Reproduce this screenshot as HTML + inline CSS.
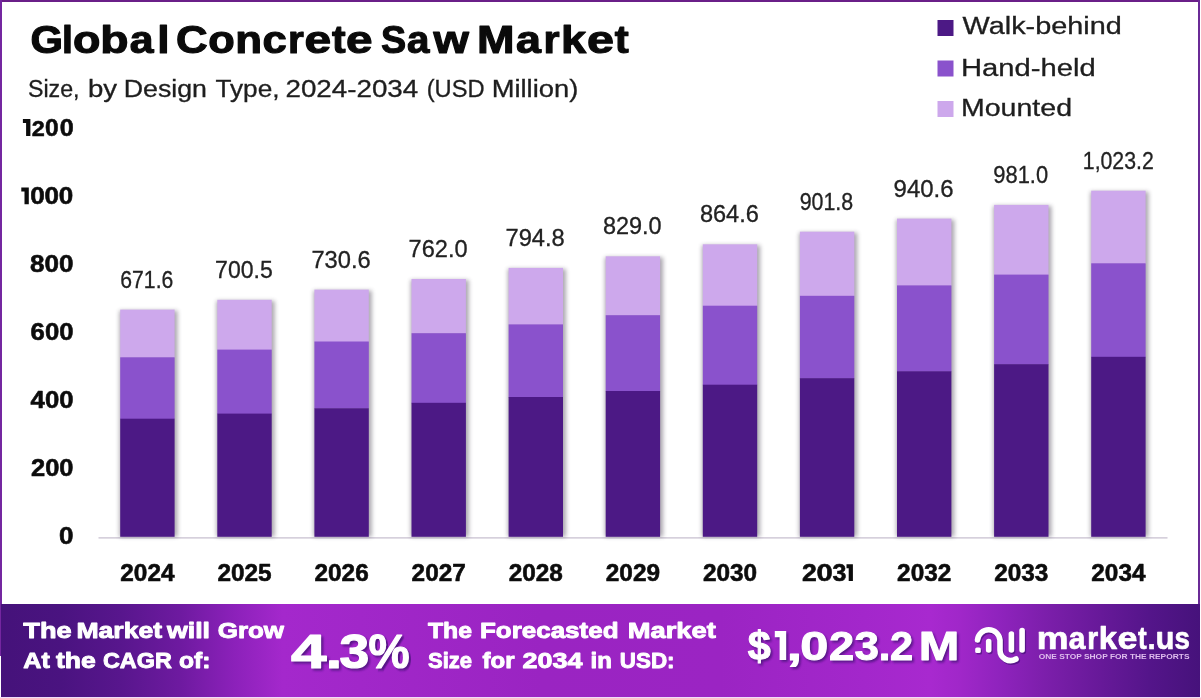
<!DOCTYPE html>
<html lang="en"><head><meta charset="utf-8"><title>Global Concrete Saw Market</title>
<style>html,body{margin:0;padding:0;background:#fff;overflow:hidden}svg{display:block;opacity:0.999}text{font-family:"Liberation Sans",sans-serif}</style></head>
<body>
<svg width="1201" height="698" viewBox="0 0 1201 698" font-family='"Liberation Sans", sans-serif'>
<defs>
<linearGradient id="bg" x1="0" y1="0" x2="1" y2="0">
<stop offset="0" stop-color="#45127a"/>
<stop offset="0.05" stop-color="#4a1380"/>
<stop offset="0.10" stop-color="#58168d"/>
<stop offset="0.15" stop-color="#6e1aa0"/>
<stop offset="0.195" stop-color="#8c21ba"/>
<stop offset="0.235" stop-color="#a428cc"/>
<stop offset="0.30" stop-color="#a127c9"/>
<stop offset="0.45" stop-color="#9a24c2"/>
<stop offset="0.60" stop-color="#9b24c3"/>
<stop offset="0.72" stop-color="#a327cb"/>
<stop offset="0.775" stop-color="#a829cf"/>
<stop offset="0.80" stop-color="#a027c9"/>
<stop offset="0.833" stop-color="#8f23bd"/>
<stop offset="0.875" stop-color="#7a1ea9"/>
<stop offset="0.917" stop-color="#671999"/>
<stop offset="0.958" stop-color="#54158a"/>
<stop offset="1" stop-color="#46127b"/>
</linearGradient>
<filter id="bs" x="-20%" y="-5%" width="140%" height="110%"><feGaussianBlur stdDeviation="2.2"/></filter>
<filter id="ts" x="-10%" y="-10%" width="120%" height="130%"><feGaussianBlur stdDeviation="0.8"/></filter>
</defs>
<rect x="0" y="0" width="1201" height="698" fill="#ffffff"/>
<rect x="0" y="0" width="1200" height="2" fill="#6a1f88"/>
<rect x="0" y="0" width="2" height="656" fill="#7426a0"/>
<rect x="1198" y="0" width="2" height="606" fill="#6a2a96"/>
<text transform="translate(30.38,52.6) scale(1.0851,1)" font-size="38.5" font-weight="700" fill="#0a0a0a" stroke="#0a0a0a" stroke-width="1.1" stroke-linejoin="round">G</text>
<text transform="translate(62.10,52.6) scale(1.0201,1)" font-size="38.5" font-weight="700" fill="#0a0a0a" stroke="#0a0a0a" stroke-width="1.1" stroke-linejoin="round">l</text>
<text transform="translate(73.05,52.6) scale(1.1658,1)" font-size="38.5" font-weight="700" fill="#0a0a0a" stroke="#0a0a0a" stroke-width="1.1" stroke-linejoin="round">o</text>
<text transform="translate(100.34,52.6) scale(1.2035,1)" font-size="38.5" font-weight="700" fill="#0a0a0a" stroke="#0a0a0a" stroke-width="1.1" stroke-linejoin="round">b</text>
<text transform="translate(129.67,52.6) scale(1.1121,1)" font-size="38.5" font-weight="700" fill="#0a0a0a" stroke="#0a0a0a" stroke-width="1.1" stroke-linejoin="round">a</text>
<text transform="translate(157.24,52.6) scale(1.1523,1)" font-size="38.5" font-weight="700" fill="#0a0a0a" stroke="#0a0a0a" stroke-width="1.1" stroke-linejoin="round">l</text>
<text transform="translate(175.90,52.6) scale(1.1381,1)" font-size="38.5" font-weight="700" fill="#0a0a0a" stroke="#0a0a0a" stroke-width="1.1" stroke-linejoin="round">C</text>
<text transform="translate(208.31,52.6) scale(1.1268,1)" font-size="38.5" font-weight="700" fill="#0a0a0a" stroke="#0a0a0a" stroke-width="1.1" stroke-linejoin="round">o</text>
<text transform="translate(235.30,52.6) scale(1.1407,1)" font-size="38.5" font-weight="700" fill="#0a0a0a" stroke="#0a0a0a" stroke-width="1.1" stroke-linejoin="round">n</text>
<text transform="translate(262.60,52.6) scale(1.1349,1)" font-size="38.5" font-weight="700" fill="#0a0a0a" stroke="#0a0a0a" stroke-width="1.1" stroke-linejoin="round">c</text>
<text transform="translate(287.91,52.6) scale(1.0557,1)" font-size="38.5" font-weight="700" fill="#0a0a0a" stroke="#0a0a0a" stroke-width="1.1" stroke-linejoin="round">r</text>
<text transform="translate(304.43,52.6) scale(1.2435,1)" font-size="38.5" font-weight="700" fill="#0a0a0a" stroke="#0a0a0a" stroke-width="1.1" stroke-linejoin="round">e</text>
<text transform="translate(332.04,52.6) scale(1.0643,1)" font-size="38.5" font-weight="700" fill="#0a0a0a" stroke="#0a0a0a" stroke-width="1.1" stroke-linejoin="round">t</text>
<text transform="translate(346.04,52.6) scale(1.2381,1)" font-size="38.5" font-weight="700" fill="#0a0a0a" stroke="#0a0a0a" stroke-width="1.1" stroke-linejoin="round">e</text>
<text transform="translate(380.92,52.6) scale(0.9781,1)" font-size="38.5" font-weight="700" fill="#0a0a0a" stroke="#0a0a0a" stroke-width="1.1" stroke-linejoin="round">S</text>
<text transform="translate(407.04,52.6) scale(1.0487,1)" font-size="38.5" font-weight="700" fill="#0a0a0a" stroke="#0a0a0a" stroke-width="1.1" stroke-linejoin="round">a</text>
<text transform="translate(433.56,52.6) scale(1.1817,1)" font-size="38.5" font-weight="700" fill="#0a0a0a" stroke="#0a0a0a" stroke-width="1.1" stroke-linejoin="round">w</text>
<text transform="translate(477.11,52.6) scale(1.1693,1)" font-size="38.5" font-weight="700" fill="#0a0a0a" stroke="#0a0a0a" stroke-width="1.1" stroke-linejoin="round">M</text>
<text transform="translate(516.00,52.6) scale(1.1658,1)" font-size="38.5" font-weight="700" fill="#0a0a0a" stroke="#0a0a0a" stroke-width="1.1" stroke-linejoin="round">a</text>
<text transform="translate(543.57,52.6) scale(1.0725,1)" font-size="38.5" font-weight="700" fill="#0a0a0a" stroke="#0a0a0a" stroke-width="1.1" stroke-linejoin="round">r</text>
<text transform="translate(560.88,52.6) scale(1.1775,1)" font-size="38.5" font-weight="700" fill="#0a0a0a" stroke="#0a0a0a" stroke-width="1.1" stroke-linejoin="round">k</text>
<text transform="translate(587.11,52.6) scale(1.2597,1)" font-size="38.5" font-weight="700" fill="#0a0a0a" stroke="#0a0a0a" stroke-width="1.1" stroke-linejoin="round">e</text>
<text transform="translate(614.73,52.6) scale(1.0896,1)" font-size="38.5" font-weight="700" fill="#0a0a0a" stroke="#0a0a0a" stroke-width="1.1" stroke-linejoin="round">t</text>
<text x="27.95" y="96.6" font-size="23" font-weight="400" fill="#1e1e1e" text-anchor="start" textLength="51.6" lengthAdjust="spacingAndGlyphs" stroke="#1e1e1e" stroke-width="0.3">Size,</text>
<text x="87.95" y="96.6" font-size="23" font-weight="400" fill="#1e1e1e" text-anchor="start" textLength="29.1" lengthAdjust="spacingAndGlyphs" stroke="#1e1e1e" stroke-width="0.3">by</text>
<text x="123.7" y="96.6" font-size="23" font-weight="400" fill="#1e1e1e" text-anchor="start" textLength="83.3" lengthAdjust="spacingAndGlyphs" stroke="#1e1e1e" stroke-width="0.3">Design</text>
<text x="215.45" y="96.6" font-size="23" font-weight="400" fill="#1e1e1e" text-anchor="start" textLength="64.1" lengthAdjust="spacingAndGlyphs" stroke="#1e1e1e" stroke-width="0.3">Type,</text>
<text x="285.45" y="96.6" font-size="23" font-weight="400" fill="#1e1e1e" text-anchor="start" textLength="132.8" lengthAdjust="spacingAndGlyphs" stroke="#1e1e1e" stroke-width="0.3">2024-2034</text>
<text x="426.7" y="96.6" font-size="23" font-weight="400" fill="#1e1e1e" text-anchor="start" textLength="57.9" lengthAdjust="spacingAndGlyphs" stroke="#1e1e1e" stroke-width="0.3">(USD</text>
<text x="491.7" y="96.6" font-size="23" font-weight="400" fill="#1e1e1e" text-anchor="start" textLength="86.6" lengthAdjust="spacingAndGlyphs" stroke="#1e1e1e" stroke-width="0.3">Million)</text>
<rect x="937.5" y="20" width="16" height="16" fill="#4c1985"/>
<text x="962.6" y="34.3" font-size="23" font-weight="400" fill="#1e1e1e" text-anchor="start" textLength="159.2" lengthAdjust="spacingAndGlyphs" stroke="#1e1e1e" stroke-width="0.3">Walk-behind</text>
<rect x="937.5" y="60.5" width="16" height="16" fill="#8a52cc"/>
<text x="961" y="75.5" font-size="23" font-weight="400" fill="#1e1e1e" text-anchor="start" textLength="134.8" lengthAdjust="spacingAndGlyphs" stroke="#1e1e1e" stroke-width="0.3">Hand-held</text>
<rect x="937.5" y="101" width="16" height="16" fill="#cda8ec"/>
<text x="961" y="115.8" font-size="23" font-weight="400" fill="#1e1e1e" text-anchor="start" textLength="111.0" lengthAdjust="spacingAndGlyphs" stroke="#1e1e1e" stroke-width="0.3">Mounted</text>
<path transform="translate(0,0)" d="M22.9,119.1 L30.4,119.1 L30.4,135.9 L26.099999999999998,135.9 L26.099999999999998,123.1 L22.9,123.1 Z" fill="#0c0c0c"/>
<text transform="translate(31.85,135.7) scale(1.0190,1)" font-size="23" font-weight="700" fill="#0c0c0c" stroke="#0c0c0c" stroke-width="0.55" stroke-linejoin="round">2</text>
<text transform="translate(44.99,135.7) scale(1.0664,1)" font-size="23" font-weight="700" fill="#0c0c0c" stroke="#0c0c0c" stroke-width="0.55" stroke-linejoin="round">0</text>
<text transform="translate(59.77,135.7) scale(1.0938,1)" font-size="23" font-weight="700" fill="#0c0c0c" stroke="#0c0c0c" stroke-width="0.55" stroke-linejoin="round">0</text>
<path transform="translate(0,0)" d="M21.3,187.4 L28.8,187.4 L28.8,204.2 L24.5,204.2 L24.5,191.4 L21.3,191.4 Z" fill="#0c0c0c"/>
<text transform="translate(30.23,204.0) scale(1.1396,1)" font-size="23" font-weight="700" fill="#0c0c0c" stroke="#0c0c0c" stroke-width="0.55" stroke-linejoin="round">0</text>
<text transform="translate(44.44,204.0) scale(1.1304,1)" font-size="23" font-weight="700" fill="#0c0c0c" stroke="#0c0c0c" stroke-width="0.55" stroke-linejoin="round">0</text>
<text transform="translate(58.73,204.0) scale(1.1304,1)" font-size="23" font-weight="700" fill="#0c0c0c" stroke="#0c0c0c" stroke-width="0.55" stroke-linejoin="round">0</text>
<text x="30" y="271.8" font-size="23" font-weight="700" fill="#0c0c0c" text-anchor="start" textLength="43.5" lengthAdjust="spacingAndGlyphs" stroke="#0c0c0c" stroke-width="0.55" stroke-linejoin="round">800</text>
<text x="30.6" y="339.9" font-size="23" font-weight="700" fill="#0c0c0c" text-anchor="start" textLength="42.9" lengthAdjust="spacingAndGlyphs" stroke="#0c0c0c" stroke-width="0.55" stroke-linejoin="round">600</text>
<text x="30.6" y="408.0" font-size="23" font-weight="700" fill="#0c0c0c" text-anchor="start" textLength="42.9" lengthAdjust="spacingAndGlyphs" stroke="#0c0c0c" stroke-width="0.55" stroke-linejoin="round">400</text>
<text x="31" y="476.0" font-size="23" font-weight="700" fill="#0c0c0c" text-anchor="start" textLength="42.5" lengthAdjust="spacingAndGlyphs" stroke="#0c0c0c" stroke-width="0.55" stroke-linejoin="round">200</text>
<text x="59" y="544.1" font-size="23" font-weight="700" fill="#0c0c0c" text-anchor="start" textLength="14.5" lengthAdjust="spacingAndGlyphs" stroke="#0c0c0c" stroke-width="0.55" stroke-linejoin="round">0</text>
<rect x="98.5" y="537" width="1069" height="1.7" fill="#d6d0dc"/>
<rect x="119.4" y="310.6" width="58.2" height="226.2" fill="#3a3344" opacity="0.42" filter="url(#bs)"/>
<rect x="120.2" y="309.6" width="54.4" height="48.2" fill="#cda8ec"/>
<rect x="120.2" y="357.3" width="54.4" height="61.8" fill="#8a52cc"/>
<rect x="120.2" y="418.7" width="54.4" height="118.1" fill="#4c1985"/>
<text x="120.3" y="287.6" font-size="23" font-weight="400" fill="#222" text-anchor="start" textLength="53" lengthAdjust="spacingAndGlyphs" stroke="#222" stroke-width="0.3">671.6</text>
<text x="120.3" y="581" font-size="23" font-weight="700" fill="#0c0c0c" text-anchor="start" textLength="54.2" lengthAdjust="spacingAndGlyphs" stroke="#0c0c0c" stroke-width="0.55" stroke-linejoin="round">2024</text>
<rect x="216.5" y="300.8" width="58.2" height="236.0" fill="#3a3344" opacity="0.42" filter="url(#bs)"/>
<rect x="217.3" y="299.8" width="54.4" height="50.3" fill="#cda8ec"/>
<rect x="217.3" y="349.6" width="54.4" height="64.5" fill="#8a52cc"/>
<rect x="217.3" y="413.6" width="54.4" height="123.2" fill="#4c1985"/>
<text x="215.1" y="277.8" font-size="23" font-weight="400" fill="#222" text-anchor="start" textLength="57.6" lengthAdjust="spacingAndGlyphs" stroke="#222" stroke-width="0.3">700.5</text>
<text x="217.4" y="581" font-size="23" font-weight="700" fill="#0c0c0c" text-anchor="start" textLength="54.2" lengthAdjust="spacingAndGlyphs" stroke="#0c0c0c" stroke-width="0.55" stroke-linejoin="round">2025</text>
<rect x="313.6" y="290.6" width="58.2" height="246.2" fill="#3a3344" opacity="0.42" filter="url(#bs)"/>
<rect x="314.4" y="289.6" width="54.4" height="52.4" fill="#cda8ec"/>
<rect x="314.4" y="341.5" width="54.4" height="67.2" fill="#8a52cc"/>
<rect x="314.4" y="408.3" width="54.4" height="128.5" fill="#4c1985"/>
<text x="311.4" y="267.6" font-size="23" font-weight="400" fill="#222" text-anchor="start" textLength="59.3" lengthAdjust="spacingAndGlyphs" stroke="#222" stroke-width="0.3">730.6</text>
<text x="314.5" y="581" font-size="23" font-weight="700" fill="#0c0c0c" text-anchor="start" textLength="54.2" lengthAdjust="spacingAndGlyphs" stroke="#0c0c0c" stroke-width="0.55" stroke-linejoin="round">2026</text>
<rect x="410.7" y="280.0" width="58.2" height="256.8" fill="#3a3344" opacity="0.42" filter="url(#bs)"/>
<rect x="411.5" y="279.0" width="54.4" height="54.6" fill="#cda8ec"/>
<rect x="411.5" y="333.2" width="54.4" height="70.1" fill="#8a52cc"/>
<rect x="411.5" y="402.8" width="54.4" height="134.0" fill="#4c1985"/>
<text x="408.6" y="257.0" font-size="23" font-weight="400" fill="#222" text-anchor="start" textLength="59" lengthAdjust="spacingAndGlyphs" stroke="#222" stroke-width="0.3">762.0</text>
<text x="411.6" y="581" font-size="23" font-weight="700" fill="#0c0c0c" text-anchor="start" textLength="54.2" lengthAdjust="spacingAndGlyphs" stroke="#0c0c0c" stroke-width="0.55" stroke-linejoin="round">2027</text>
<rect x="507.8" y="268.9" width="58.2" height="267.9" fill="#3a3344" opacity="0.42" filter="url(#bs)"/>
<rect x="508.6" y="267.9" width="54.4" height="57.0" fill="#cda8ec"/>
<rect x="508.6" y="324.4" width="54.4" height="73.1" fill="#8a52cc"/>
<rect x="508.6" y="397.0" width="54.4" height="139.8" fill="#4c1985"/>
<text x="505.5" y="245.9" font-size="23" font-weight="400" fill="#222" text-anchor="start" textLength="59.3" lengthAdjust="spacingAndGlyphs" stroke="#222" stroke-width="0.3">794.8</text>
<text x="508.7" y="581" font-size="23" font-weight="700" fill="#0c0c0c" text-anchor="start" textLength="54.2" lengthAdjust="spacingAndGlyphs" stroke="#0c0c0c" stroke-width="0.55" stroke-linejoin="round">2028</text>
<rect x="604.9" y="257.3" width="58.2" height="279.5" fill="#3a3344" opacity="0.42" filter="url(#bs)"/>
<rect x="605.7" y="256.3" width="54.4" height="59.4" fill="#cda8ec"/>
<rect x="605.7" y="315.2" width="54.4" height="76.2" fill="#8a52cc"/>
<rect x="605.7" y="391.0" width="54.4" height="145.8" fill="#4c1985"/>
<text x="602.9" y="234.3" font-size="23" font-weight="400" fill="#222" text-anchor="start" textLength="58.7" lengthAdjust="spacingAndGlyphs" stroke="#222" stroke-width="0.3">829.0</text>
<text x="605.8" y="581" font-size="23" font-weight="700" fill="#0c0c0c" text-anchor="start" textLength="54.2" lengthAdjust="spacingAndGlyphs" stroke="#0c0c0c" stroke-width="0.55" stroke-linejoin="round">2029</text>
<rect x="702.0" y="245.3" width="58.2" height="291.5" fill="#3a3344" opacity="0.42" filter="url(#bs)"/>
<rect x="702.8" y="244.3" width="54.4" height="61.9" fill="#cda8ec"/>
<rect x="702.8" y="305.7" width="54.4" height="79.5" fill="#8a52cc"/>
<rect x="702.8" y="384.7" width="54.4" height="152.1" fill="#4c1985"/>
<text x="699.9" y="222.3" font-size="23" font-weight="400" fill="#222" text-anchor="start" textLength="59" lengthAdjust="spacingAndGlyphs" stroke="#222" stroke-width="0.3">864.6</text>
<text x="702.9" y="581" font-size="23" font-weight="700" fill="#0c0c0c" text-anchor="start" textLength="54.2" lengthAdjust="spacingAndGlyphs" stroke="#0c0c0c" stroke-width="0.55" stroke-linejoin="round">2030</text>
<rect x="799.1" y="232.7" width="58.2" height="304.1" fill="#3a3344" opacity="0.42" filter="url(#bs)"/>
<rect x="799.9" y="231.7" width="54.4" height="64.6" fill="#cda8ec"/>
<rect x="799.9" y="295.8" width="54.4" height="82.9" fill="#8a52cc"/>
<rect x="799.9" y="378.2" width="54.4" height="158.6" fill="#4c1985"/>
<text x="799.7" y="209.7" font-size="23" font-weight="400" fill="#222" text-anchor="start" textLength="53.5" lengthAdjust="spacingAndGlyphs" stroke="#222" stroke-width="0.3">901.8</text>
<text transform="translate(802.05,581) scale(1.1549,1)" font-size="23" font-weight="700" fill="#0c0c0c" stroke="#0c0c0c" stroke-width="0.55" stroke-linejoin="round">2</text>
<text transform="translate(816.41,581) scale(1.2677,1)" font-size="23" font-weight="700" fill="#0c0c0c" stroke="#0c0c0c" stroke-width="0.55" stroke-linejoin="round">0</text>
<text transform="translate(832.41,581) scale(1.0880,1)" font-size="23" font-weight="700" fill="#0c0c0c" stroke="#0c0c0c" stroke-width="0.55" stroke-linejoin="round">3</text>
<path transform="translate(0,0)" d="M846.5,564.3 L852.9,564.3 L852.9,581 L848.6999999999999,581 L848.6999999999999,568.3 L846.5,568.3 Z" fill="#0c0c0c"/>
<rect x="896.2" y="219.6" width="58.2" height="317.2" fill="#3a3344" opacity="0.42" filter="url(#bs)"/>
<rect x="897.0" y="218.6" width="54.4" height="67.3" fill="#cda8ec"/>
<rect x="897.0" y="285.4" width="54.4" height="86.4" fill="#8a52cc"/>
<rect x="897.0" y="371.3" width="54.4" height="165.5" fill="#4c1985"/>
<text x="893.6" y="196.6" font-size="23" font-weight="400" fill="#222" text-anchor="start" textLength="60" lengthAdjust="spacingAndGlyphs" stroke="#222" stroke-width="0.3">940.6</text>
<text x="897.1" y="581" font-size="23" font-weight="700" fill="#0c0c0c" text-anchor="start" textLength="54.2" lengthAdjust="spacingAndGlyphs" stroke="#0c0c0c" stroke-width="0.55" stroke-linejoin="round">2032</text>
<rect x="993.3" y="205.9" width="58.2" height="330.9" fill="#3a3344" opacity="0.42" filter="url(#bs)"/>
<rect x="994.1" y="204.9" width="54.4" height="70.2" fill="#cda8ec"/>
<rect x="994.1" y="274.6" width="54.4" height="90.1" fill="#8a52cc"/>
<rect x="994.1" y="364.2" width="54.4" height="172.6" fill="#4c1985"/>
<text x="993.3" y="182.9" font-size="23" font-weight="400" fill="#222" text-anchor="start" textLength="54.8" lengthAdjust="spacingAndGlyphs" stroke="#222" stroke-width="0.3">981.0</text>
<text x="994.2" y="581" font-size="23" font-weight="700" fill="#0c0c0c" text-anchor="start" textLength="54.2" lengthAdjust="spacingAndGlyphs" stroke="#0c0c0c" stroke-width="0.55" stroke-linejoin="round">2033</text>
<rect x="1090.4" y="191.7" width="58.2" height="345.1" fill="#3a3344" opacity="0.42" filter="url(#bs)"/>
<rect x="1091.2" y="190.7" width="54.4" height="73.2" fill="#cda8ec"/>
<rect x="1091.2" y="263.3" width="54.4" height="94.0" fill="#8a52cc"/>
<rect x="1091.2" y="356.8" width="54.4" height="180.0" fill="#4c1985"/>
<text x="1082.8" y="168.7" font-size="23" font-weight="400" fill="#222" text-anchor="start" textLength="71" lengthAdjust="spacingAndGlyphs" stroke="#222" stroke-width="0.3">1,023.2</text>
<text x="1091.3" y="581" font-size="23" font-weight="700" fill="#0c0c0c" text-anchor="start" textLength="54.2" lengthAdjust="spacingAndGlyphs" stroke="#0c0c0c" stroke-width="0.55" stroke-linejoin="round">2034</text>
<rect x="1" y="604" width="1199" height="93" fill="url(#bg)"/>
<rect x="0" y="697" width="1201" height="1" fill="#f0dcf8"/>
<text x="23.3" y="638.2" font-size="22" font-weight="700" fill="#ffffff" text-anchor="start" textLength="48.3" lengthAdjust="spacingAndGlyphs" stroke="#ffffff" stroke-width="0.9" stroke-linejoin="round">The</text>
<text x="76.4" y="638.2" font-size="22" font-weight="700" fill="#ffffff" text-anchor="start" textLength="85.7" lengthAdjust="spacingAndGlyphs" stroke="#ffffff" stroke-width="0.9" stroke-linejoin="round">Market</text>
<text x="167" y="638.2" font-size="22" font-weight="700" fill="#ffffff" text-anchor="start" textLength="43" lengthAdjust="spacingAndGlyphs" stroke="#ffffff" stroke-width="0.9" stroke-linejoin="round">will</text>
<text x="217.7" y="638.2" font-size="22" font-weight="700" fill="#ffffff" text-anchor="start" textLength="66.4" lengthAdjust="spacingAndGlyphs" stroke="#ffffff" stroke-width="0.9" stroke-linejoin="round">Grow</text>
<text x="23.3" y="668.4" font-size="22" font-weight="700" fill="#ffffff" text-anchor="start" textLength="26.5" lengthAdjust="spacingAndGlyphs" stroke="#ffffff" stroke-width="0.9" stroke-linejoin="round">At</text>
<text x="55.9" y="668.4" font-size="22" font-weight="700" fill="#ffffff" text-anchor="start" textLength="39.8" lengthAdjust="spacingAndGlyphs" stroke="#ffffff" stroke-width="0.9" stroke-linejoin="round">the</text>
<text x="103" y="668.4" font-size="22" font-weight="700" fill="#ffffff" text-anchor="start" textLength="68.8" lengthAdjust="spacingAndGlyphs" stroke="#ffffff" stroke-width="0.9" stroke-linejoin="round">CAGR</text>
<text x="179" y="668.4" font-size="22" font-weight="700" fill="#ffffff" text-anchor="start" textLength="31.4" lengthAdjust="spacingAndGlyphs" stroke="#ffffff" stroke-width="0.9" stroke-linejoin="round">of:</text>
<text transform="translate(292.94,670.4) scale(1.3458,1)" font-size="47.5" font-weight="700" fill="#3b0f6e" stroke="#3b0f6e" stroke-width="1.2" stroke-linejoin="round" opacity="0.7" filter="url(#ts)">4</text>
<text transform="translate(327.82,670.4) scale(1.2410,1)" font-size="47.5" font-weight="700" fill="#3b0f6e" stroke="#3b0f6e" stroke-width="1.2" stroke-linejoin="round" opacity="0.7" filter="url(#ts)">.</text>
<text transform="translate(341.40,670.4) scale(1.1256,1)" font-size="47.5" font-weight="700" fill="#3b0f6e" stroke="#3b0f6e" stroke-width="1.2" stroke-linejoin="round" opacity="0.7" filter="url(#ts)">3</text>
<text transform="translate(370.44,670.4) scale(0.9728,1)" font-size="47.5" font-weight="700" fill="#3b0f6e" stroke="#3b0f6e" stroke-width="1.2" stroke-linejoin="round" opacity="0.7" filter="url(#ts)">%</text>
<text transform="translate(290.94,668.4) scale(1.3458,1)" font-size="47.5" font-weight="700" fill="#ffffff" stroke="#ffffff" stroke-width="1.2" stroke-linejoin="round">4</text>
<text transform="translate(325.82,668.4) scale(1.2410,1)" font-size="47.5" font-weight="700" fill="#ffffff" stroke="#ffffff" stroke-width="1.2" stroke-linejoin="round">.</text>
<text transform="translate(339.40,668.4) scale(1.1256,1)" font-size="47.5" font-weight="700" fill="#ffffff" stroke="#ffffff" stroke-width="1.2" stroke-linejoin="round">3</text>
<text transform="translate(368.44,668.4) scale(0.9728,1)" font-size="47.5" font-weight="700" fill="#ffffff" stroke="#ffffff" stroke-width="1.2" stroke-linejoin="round">%</text>
<text x="428" y="638.2" font-size="22" font-weight="700" fill="#ffffff" text-anchor="start" textLength="44" lengthAdjust="spacingAndGlyphs" stroke="#ffffff" stroke-width="0.9" stroke-linejoin="round">The</text>
<text x="480" y="638.2" font-size="22" font-weight="700" fill="#ffffff" text-anchor="start" textLength="138.5" lengthAdjust="spacingAndGlyphs" stroke="#ffffff" stroke-width="0.9" stroke-linejoin="round">Forecasted</text>
<text x="627.8" y="638.2" font-size="22" font-weight="700" fill="#ffffff" text-anchor="start" textLength="88.0" lengthAdjust="spacingAndGlyphs" stroke="#ffffff" stroke-width="0.9" stroke-linejoin="round">Market</text>
<text x="428" y="668.4" font-size="22" font-weight="700" fill="#ffffff" text-anchor="start" textLength="44" lengthAdjust="spacingAndGlyphs" stroke="#ffffff" stroke-width="0.9" stroke-linejoin="round">Size</text>
<text x="482.6" y="668.4" font-size="22" font-weight="700" fill="#ffffff" text-anchor="start" textLength="32.0" lengthAdjust="spacingAndGlyphs" stroke="#ffffff" stroke-width="0.9" stroke-linejoin="round">for</text>
<text x="522.6" y="668.4" font-size="22" font-weight="700" fill="#ffffff" text-anchor="start" textLength="59.9" lengthAdjust="spacingAndGlyphs" stroke="#ffffff" stroke-width="0.9" stroke-linejoin="round">2034</text>
<text x="590.5" y="668.4" font-size="22" font-weight="700" fill="#ffffff" text-anchor="start" textLength="21.3" lengthAdjust="spacingAndGlyphs" stroke="#ffffff" stroke-width="0.9" stroke-linejoin="round">in</text>
<text x="619.8" y="668.4" font-size="22" font-weight="700" fill="#ffffff" text-anchor="start" textLength="54.7" lengthAdjust="spacingAndGlyphs" stroke="#ffffff" stroke-width="0.9" stroke-linejoin="round">USD:</text>
<text transform="translate(749.48,661.8) scale(1.0203,1)" font-size="40.5" font-weight="700" fill="#3b0f6e" stroke="#3b0f6e" stroke-width="1.0" stroke-linejoin="round" opacity="0.7" filter="url(#ts)">$</text>
<text transform="translate(788.45,661.8) scale(1.3580,1)" font-size="40.5" font-weight="700" fill="#3b0f6e" stroke="#3b0f6e" stroke-width="1.0" stroke-linejoin="round" opacity="0.7" filter="url(#ts)">,</text>
<text transform="translate(802.08,661.8) scale(1.2476,1)" font-size="40.5" font-weight="700" fill="#3b0f6e" stroke="#3b0f6e" stroke-width="1.0" stroke-linejoin="round" opacity="0.7" filter="url(#ts)">0</text>
<text transform="translate(830.71,661.8) scale(1.1214,1)" font-size="40.5" font-weight="700" fill="#3b0f6e" stroke="#3b0f6e" stroke-width="1.0" stroke-linejoin="round" opacity="0.7" filter="url(#ts)">2</text>
<text transform="translate(856.21,661.8) scale(1.0869,1)" font-size="40.5" font-weight="700" fill="#3b0f6e" stroke="#3b0f6e" stroke-width="1.0" stroke-linejoin="round" opacity="0.7" filter="url(#ts)">3</text>
<text transform="translate(880.46,661.8) scale(1.0396,1)" font-size="40.5" font-weight="700" fill="#3b0f6e" stroke="#3b0f6e" stroke-width="1.0" stroke-linejoin="round" opacity="0.7" filter="url(#ts)">.</text>
<text transform="translate(891.84,661.8) scale(1.0288,1)" font-size="40.5" font-weight="700" fill="#3b0f6e" stroke="#3b0f6e" stroke-width="1.0" stroke-linejoin="round" opacity="0.7" filter="url(#ts)">2</text>
<text transform="translate(920.51,661.8) scale(1.2036,1)" font-size="40.5" font-weight="700" fill="#3b0f6e" stroke="#3b0f6e" stroke-width="1.0" stroke-linejoin="round" opacity="0.7" filter="url(#ts)">M</text>
<path transform="translate(1.8,1.8)" d="M774.8,630.9 L786.2,630.9 L786.2,660 L779.6,660 L779.6,637.3 L774.8,637.3 Z" fill="#3b0f6e" opacity="0.7" filter="url(#ts)"/>
<text transform="translate(747.68,660) scale(1.0203,1)" font-size="40.5" font-weight="700" fill="#ffffff" stroke="#ffffff" stroke-width="1.0" stroke-linejoin="round">$</text>
<text transform="translate(786.65,660) scale(1.3580,1)" font-size="40.5" font-weight="700" fill="#ffffff" stroke="#ffffff" stroke-width="1.0" stroke-linejoin="round">,</text>
<text transform="translate(800.28,660) scale(1.2476,1)" font-size="40.5" font-weight="700" fill="#ffffff" stroke="#ffffff" stroke-width="1.0" stroke-linejoin="round">0</text>
<text transform="translate(828.91,660) scale(1.1214,1)" font-size="40.5" font-weight="700" fill="#ffffff" stroke="#ffffff" stroke-width="1.0" stroke-linejoin="round">2</text>
<text transform="translate(854.41,660) scale(1.0869,1)" font-size="40.5" font-weight="700" fill="#ffffff" stroke="#ffffff" stroke-width="1.0" stroke-linejoin="round">3</text>
<text transform="translate(878.66,660) scale(1.0396,1)" font-size="40.5" font-weight="700" fill="#ffffff" stroke="#ffffff" stroke-width="1.0" stroke-linejoin="round">.</text>
<text transform="translate(890.04,660) scale(1.0288,1)" font-size="40.5" font-weight="700" fill="#ffffff" stroke="#ffffff" stroke-width="1.0" stroke-linejoin="round">2</text>
<text transform="translate(918.71,660) scale(1.2036,1)" font-size="40.5" font-weight="700" fill="#ffffff" stroke="#ffffff" stroke-width="1.0" stroke-linejoin="round">M</text>
<path transform="translate(0,0)" d="M774.8,630.9 L786.2,630.9 L786.2,660 L779.6,660 L779.6,637.3 L774.8,637.3 Z" fill="#ffffff"/>
<g transform="translate(1.2,1.5)" fill="none" stroke="#3b0f6e" stroke-width="5.6" stroke-linecap="round" opacity="0.6">
<path d="M977.5,640 A11.3,11.3 0 0 1 1000,640 L1000,650 A10.5,10.5 0 0 0 1016,659"/>
<path d="M988.7,641.5 L988.7,650"/>
<path d="M1011.4,634 L1011.4,650"/>
<path d="M1022.1,630.5 L1022.1,650"/>
<rect x="975.2" y="647.4" width="5.6" height="5.6" rx="1.6" fill="#3b0f6e" stroke="none"/>
</g>
<g transform="translate(0,0)" fill="none" stroke="#ffffff" stroke-width="5.6" stroke-linecap="round" opacity="1">
<path d="M977.5,640 A11.3,11.3 0 0 1 1000,640 L1000,650 A10.5,10.5 0 0 0 1016,659"/>
<path d="M988.7,641.5 L988.7,650"/>
<path d="M1011.4,634 L1011.4,650"/>
<path d="M1022.1,630.5 L1022.1,650"/>
<rect x="975.2" y="647.4" width="5.6" height="5.6" rx="1.6" fill="#ffffff" stroke="none"/>
</g>
<text transform="translate(1036.73,649.2) scale(1.1696,1)" font-size="30.5" font-weight="700" fill="#ffffff" stroke="#ffffff" stroke-width="0.7" stroke-linejoin="round">m</text>
<text transform="translate(1068.75,649.2) scale(0.9851,1)" font-size="30.5" font-weight="700" fill="#ffffff" stroke="#ffffff" stroke-width="0.7" stroke-linejoin="round">a</text>
<text transform="translate(1087.13,649.2) scale(0.9201,1)" font-size="30.5" font-weight="700" fill="#ffffff" stroke="#ffffff" stroke-width="0.7" stroke-linejoin="round">r</text>
<text transform="translate(1098.65,649.2) scale(1.0761,1)" font-size="30.5" font-weight="700" fill="#ffffff" stroke="#ffffff" stroke-width="0.7" stroke-linejoin="round">k</text>
<text transform="translate(1117.52,649.2) scale(1.1756,1)" font-size="30.5" font-weight="700" fill="#ffffff" stroke="#ffffff" stroke-width="0.7" stroke-linejoin="round">e</text>
<text transform="translate(1137.92,649.2) scale(0.8530,1)" font-size="30.5" font-weight="700" fill="#ffffff" stroke="#ffffff" stroke-width="0.7" stroke-linejoin="round">t</text>
<text transform="translate(1147.66,649.2) scale(0.9203,1)" font-size="30.5" font-weight="700" fill="#ffffff" stroke="#ffffff" stroke-width="0.7" stroke-linejoin="round">.</text>
<text transform="translate(1155.65,649.2) scale(0.9989,1)" font-size="30.5" font-weight="700" fill="#ffffff" stroke="#ffffff" stroke-width="0.7" stroke-linejoin="round">u</text>
<text transform="translate(1174.58,649.2) scale(0.9085,1)" font-size="30.5" font-weight="700" fill="#ffffff" stroke="#ffffff" stroke-width="0.7" stroke-linejoin="round">s</text>
<text x="1038.7" y="658.9" font-size="6.6" font-weight="700" fill="#dfbdee" text-anchor="start" textLength="150.8" lengthAdjust="spacingAndGlyphs">ONE STOP SHOP FOR THE REPORTS</text>
</svg>
</body></html>
